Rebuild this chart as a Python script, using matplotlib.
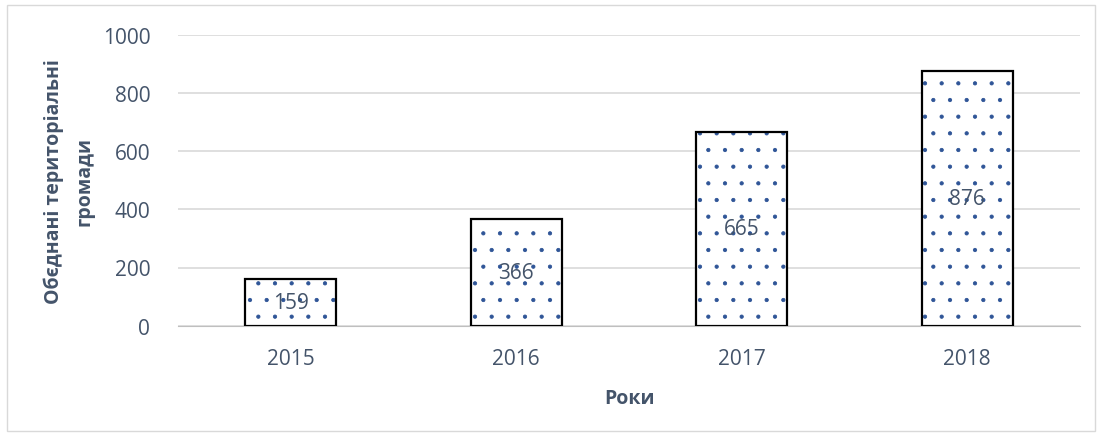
import matplotlib
matplotlib.use('Agg')
import matplotlib.pyplot as plt
from matplotlib.patches import Rectangle

years = ['2015', '2016', '2017', '2018']
hromady = [159, 366, 665, 876]
yticks = [0, 200, 400, 600, 800, 1000]

text_color = '#44546A'
plt.rcParams['font.family'] = ['Open Sans', 'DejaVu Sans']
plt.rcParams['hatch.linewidth'] = 0.6

fig = plt.figure(figsize=(11.01, 4.39), dpi=100)
ax = fig.add_axes([178 / 1101, 1 - 326.7 / 439, (1080 - 178) / 1101, (326.7 - 35.7) / 439])

# рамка навколо діаграми
fig.patches.append(Rectangle((7 / 1101, 1 - 432 / 439), 1088 / 1101, 426 / 439,
                             transform=fig.transFigure, fill=False,
                             edgecolor='#D9D9D9', linewidth=1))

x = range(len(years))
ax.bar(x, hromady, width=0.405, color='white', edgecolor='#2F5597',
       hatch='.', linewidth=0, zorder=2)
ax.bar(x, hromady, width=0.405, fill=False, edgecolor='black',
       linewidth=1.6, zorder=3)

for i, v in enumerate(hromady):
    ax.text(i, v / 2, str(v), ha='center', va='center', fontsize=15,
            color=text_color, zorder=4)

ax.set_xlim(-0.5, len(years) - 0.5)
ax.set_ylim(0, 1000)
ax.set_yticks(yticks)
ax.set_xticks(list(x))
ax.set_xticklabels(years)
ax.tick_params(axis='both', length=0, labelsize=15, labelcolor=text_color)
ax.tick_params(axis='y', pad=20)
ax.tick_params(axis='x', pad=16)
ax.yaxis.grid(True, color='#D9D9D9', linewidth=1.2, zorder=0)
ax.set_axisbelow(True)
for s in ['top', 'right', 'left']:
    ax.spines[s].set_visible(False)
ax.spines['bottom'].set_color('#BFBFBF')

ax.set_xlabel('Роки', fontsize=14, fontweight='bold', color=text_color, labelpad=14)
ax.set_ylabel('Обєднані територіальні\nгромади', fontsize=14, fontweight='bold',
              color=text_color, labelpad=6, linespacing=1.7)

fig.savefig('out.png', dpi=100)
